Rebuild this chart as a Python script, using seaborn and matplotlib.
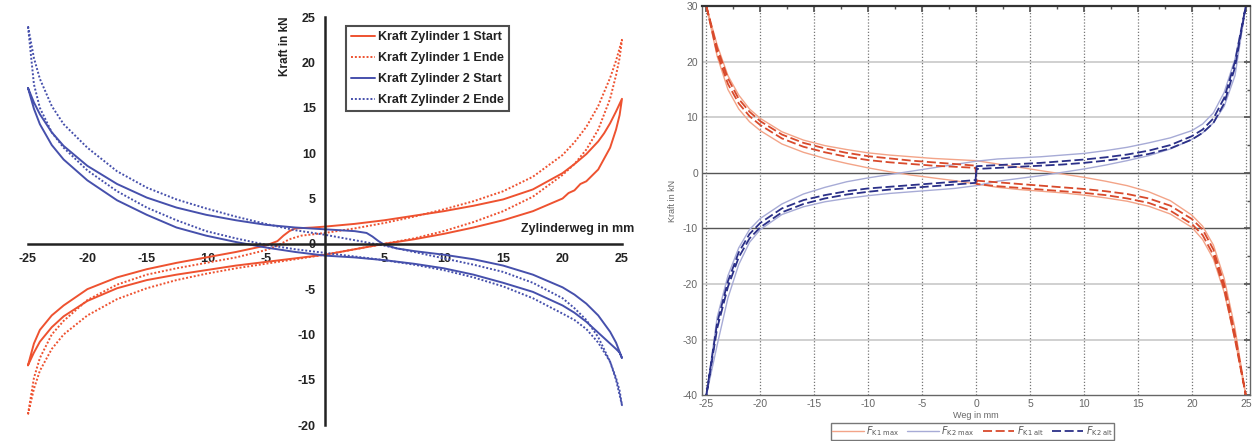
import matplotlib
matplotlib.use("Agg")
import matplotlib.pyplot as plt
import seaborn as sns

# ---------------- left panel: Kraft vs Zylinderweg (loops) ----------------
# Zylinder 1 Start (solid red): out branch then return branch
z1s_x = [-25, -24.5, -24, -23, -22, -20, -17.5, -15, -12.5, -10, -7.5, -5, -4, -3.5, -3, -2.5, -1, 0,
         2.5, 5, 7.5, 10, 12.5, 15, 17.5, 20, 21, 22, 23, 23.5, 24, 24.5, 25,
         24.8, 24.5, 24, 23, 22, 21.5, 21, 20.5, 20, 17.5, 15, 12.5, 10, 7.5, 5, 2.5, 0,
         -2.5, -5, -7.5, -10, -12.5, -15, -17.5, -20, -22, -23, -24, -24.5, -25]
z1s_y = [-13.4, -11.0, -9.5, -7.9, -6.8, -5.0, -3.7, -2.8, -2.1, -1.5, -0.9, -0.2, 0.3, 0.9, 1.4, 1.7, 1.8, 1.9,
         2.2, 2.6, 3.1, 3.6, 4.2, 4.9, 6.0, 7.8, 8.8, 9.9, 11.3, 12.2, 13.3, 14.6, 16.0,
         14.2, 12.6, 10.6, 8.2, 6.9, 6.6, 5.9, 5.6, 5.0, 3.6, 2.6, 1.8, 1.1, 0.5, 0.0, -0.6, -1.2,
         -1.6, -2.0, -2.4, -2.9, -3.4, -4.0, -4.9, -6.3, -8.0, -9.2, -10.8, -12.0, -13.4]

# Zylinder 1 Ende (dotted red)
z1e_x = [-25, -24.5, -24, -23, -22, -20, -17.5, -15, -12.5, -10, -7.5, -5, -4, -3, -2, 0,
         2.5, 5, 7.5, 10, 12.5, 15, 17.5, 20, 21, 22, 23, 24, 24.5, 25,
         24.8, 24.5, 24, 23, 22, 21, 20, 17.5, 15, 12.5, 10, 7.5, 5, 2.5, 0,
         -2.5, -5, -7.5, -10, -12.5, -15, -17.5, -20, -22, -23, -24, -24.5, -25]
z1e_y = [-18.8, -14.8, -12.6, -10.0, -8.5, -6.2, -4.5, -3.4, -2.7, -2.1, -1.5, -0.7, -0.2, 0.5, 0.9, 1.2,
         1.7, 2.3, 3.0, 3.8, 4.7, 5.8, 7.4, 9.8, 11.2, 12.9, 15.2, 18.3, 20.2, 22.5,
         20.5, 18.6, 16.0, 12.6, 10.4, 8.8, 7.6, 5.2, 3.6, 2.4, 1.4, 0.6, 0.0, -0.6, -1.2,
         -1.7, -2.2, -2.7, -3.3, -4.0, -4.9, -6.1, -7.9, -10.0, -11.6, -14.0, -16.0, -18.8]

# Zylinder 2 Start (solid blue)
z2s_x = [-25, -24.5, -24, -23, -22, -20, -17.5, -15, -12.5, -10, -7.5, -5, -2.5, 0,
         2.5, 3.5, 4, 4.5, 5, 6, 7.5, 10, 12.5, 15, 17.5, 20, 21, 22, 23, 24, 24.5, 25,
         24.8, 24.5, 24, 23, 22, 21, 20, 17.5, 15, 12.5, 10, 7.5, 5, 2.5, 0,
         -2.5, -5, -7.5, -10, -12.5, -15, -17.5, -20, -22, -23, -24, -24.5, -25]
z2s_y = [17.2, 15.6, 14.3, 12.3, 10.8, 8.6, 6.6, 5.1, 4.0, 3.2, 2.6, 2.1, 1.8, 1.6,
         1.4, 1.2, 0.8, 0.3, -0.1, -0.5, -0.8, -1.2, -1.7, -2.4, -3.4, -4.8, -5.6, -6.6, -7.9, -9.7, -10.9, -12.6,
         -12.0, -11.6, -11.0, -9.8, -8.6, -7.6, -6.8, -5.3, -4.3, -3.4, -2.7, -2.2, -1.8, -1.5, -1.3,
         -0.9, -0.4, 0.2, 0.9, 1.8, 3.2, 4.8, 7.0, 9.3, 10.9, 13.2, 14.9, 17.2]

# Zylinder 2 Ende (dotted blue)
z2e_x = [-25, -24.5, -24, -23, -22, -20, -17.5, -15, -12.5, -10, -7.5, -5, -2.5, 0,
         2.5, 5, 7.5, 10, 12.5, 15, 17.5, 20, 21, 22, 23, 24, 24.5, 25,
         24.8, 24.5, 24, 23, 22, 21, 20, 17.5, 15, 12.5, 10, 7.5, 5, 2.5, 0,
         -2.5, -5, -7.5, -10, -12.5, -15, -17.5, -20, -22, -23, -24, -24.5, -25]
z2e_y = [24.0, 20.5, 18.2, 15.2, 13.2, 10.6, 8.0, 6.2, 4.9, 3.9, 3.0, 2.2, 1.5, 1.0,
         0.4, -0.2, -0.9, -1.6, -2.3, -3.1, -4.3, -6.0, -7.1, -8.4, -10.3, -13.0, -15.0, -17.8,
         -16.2, -14.8, -13.0, -10.9, -9.4, -8.4, -7.7, -6.0, -4.7, -3.7, -2.9, -2.3, -1.8, -1.4, -1.0,
         -0.6, -0.1, 0.6, 1.4, 2.6, 4.0, 5.8, 8.1, 10.6, 12.3, 15.0, 17.6, 24.0]

left_labels = ["Kraft Zylinder 1 Start", "Kraft Zylinder 1 Ende",
               "Kraft Zylinder 2 Start", "Kraft Zylinder 2 Ende"]
left_xticks = [-25, -20, -15, -10, -5, 5, 10, 15, 20, 25]
left_yticks = [-20, -15, -10, -5, 0, 5, 10, 15, 20, 25]

# ---------------- right panel: Kraft vs Weg ----------------
w = [-25, -24, -23, -22, -21, -20, -18, -16, -14, -12, -10, -8, -6, -4, -2, 0,
     2, 4, 6, 8, 10, 12, 14, 16, 18, 20, 21, 22, 23, 24, 25]
k1max_up = [30, 23, 17.5, 14, 11.5, 9.8, 7.4, 5.9, 4.9, 4.2, 3.6, 3.2, 2.9, 2.6, 2.4, 2.2,
            1.6, 1.0, 0.4, -0.2, -0.8, -1.5, -2.3, -3.4, -5.0, -7.6, -9.6, -13, -19, -28, -40]
k1max_lo = [30, 21, 15, 11.5, 9.2, 7.6, 5.2, 3.7, 2.6, 1.7, 0.9, 0.2, -0.4, -0.9, -1.4, -2.0,
            -2.6, -3.0, -3.3, -3.6, -4.0, -4.5, -5.1, -6.0, -7.4, -9.8, -12, -15.5, -21.5, -30, -40]
k2max_up = [-40, -26, -18.5, -13.5, -10.2, -8.2, -5.6, -3.8, -2.6, -1.6, -0.9, -0.3, 0.3, 0.9, 1.5, 2.1,
            2.5, 2.7, 2.9, 3.2, 3.5, 4.0, 4.6, 5.4, 6.3, 7.6, 8.8, 10.8, 14.5, 20.5, 30]
k2max_lo = [-40, -31, -22.5, -16.5, -12.5, -10.2, -7.5, -6.1, -5.2, -4.6, -4.1, -3.7, -3.4, -3.1, -2.8, -2.3,
            -1.5, -1.0, -0.5, 0.1, 0.7, 1.4, 2.2, 3.1, 4.3, 6.0, 7.2, 9.0, 12.0, 17.5, 30]

wj = [-25, -24, -23, -22, -21, -20, -18, -16, -14, -12, -10, -8, -6, -4, -2, -0.05, 0.05,
      2, 4, 6, 8, 10, 12, 14, 16, 18, 20, 21, 22, 23, 24, 25]
k1alt_a = [30, 22.5, 17, 13.3, 11, 9.3, 6.9, 5.4, 4.4, 3.6, 3.0, 2.6, 2.2, 1.9, 1.6, 1.3, -1.4,
           -1.7, -2.0, -2.3, -2.6, -2.9, -3.3, -3.8, -4.6, -5.9, -8.3, -10.2, -13.8, -20, -29, -40]
k1alt_b = [30, 21.5, 16, 12.5, 10.2, 8.6, 6.2, 4.7, 3.7, 2.9, 2.3, 1.9, 1.6, 1.3, 1.1, 0.9, -2.0,
           -2.4, -2.7, -3.0, -3.3, -3.6, -4.0, -4.6, -5.4, -6.8, -9.2, -11.2, -14.8, -21, -30, -40]
k2alt_a = [-40, -27, -19.5, -14.3, -11, -9.0, -6.4, -4.9, -4.0, -3.3, -2.8, -2.5, -2.2, -1.9, -1.6, -1.3, 1.2,
           1.4, 1.6, 1.8, 2.1, 2.4, 2.8, 3.3, 4.0, 5.0, 6.6, 7.8, 9.8, 13.5, 20, 30]
k2alt_b = [-40, -28, -20.5, -15.2, -11.8, -9.8, -7.1, -5.6, -4.6, -3.9, -3.4, -3.0, -2.7, -2.4, -2.1, -1.8, 0.7,
           0.9, 1.1, 1.3, 1.5, 1.8, 2.2, 2.7, 3.4, 4.4, 6.0, 7.2, 9.0, 12.5, 19, 30]

right_labels = [r"$F_{\rm K1\ max}$", r"$F_{\rm K2\ max}$", r"$F_{\rm K1\ alt}$", r"$F_{\rm K2\ alt}$"]

RED = "#ee5230"
BLUE = "#4650ac"

sns.set_theme(style="white")
plt.rcParams["font.family"] = ["Liberation Sans", "DejaVu Sans"]
plt.rcParams["axes.unicode_minus"] = False

fig = plt.figure(figsize=(12.55, 4.41), dpi=100)
ax1 = fig.add_axes([0.0223, 0.036, 0.4733, 0.925])
ax2 = fig.add_axes([0.5594, 0.104, 0.4367, 0.882])

# ---- left ----
dot = (0, (1, 1))
series = [(z1s_x, z1s_y, RED, "-"), (z1e_x, z1e_y, RED, dot),
          (z2s_x, z2s_y, BLUE, "-"), (z2e_x, z2e_y, BLUE, dot)]
for (xs, ys, c, ls), lab in zip(series, left_labels):
    sns.lineplot(x=xs, y=ys, sort=False, estimator=None, ax=ax1, color=c,
                 linestyle=ls, lw=1.4, label=lab, clip_on=False)

ax1.set_xlim(-25, 25)
ax1.set_ylim(-20, 25)
for s in ["top", "right"]:
    ax1.spines[s].set_visible(False)
for s in ["left", "bottom"]:
    ax1.spines[s].set_position(("data", 0))
    ax1.spines[s].set_color("#222222")
    ax1.spines[s].set_linewidth(1.8)
ax1.set_xticks(left_xticks)
ax1.set_yticks(left_yticks)
ax1.set_xticks([x + 2.5 for x in range(-25, 25, 5)], minor=True)
ax1.set_yticks([y + 2.5 for y in range(-20, 25, 5)], minor=True)
ax1.tick_params(which="major", direction="inout", length=9, width=1.6, color="#222222",
                labelsize=9, labelcolor="#222222", pad=2)
ax1.tick_params(which="minor", direction="inout", length=5, width=1.3, color="#222222")
for t in ax1.get_xticklabels() + ax1.get_yticklabels():
    t.set_fontweight("bold")
ax1.set_xlabel("")
ax1.set_ylabel("")
ax1.text(26.0, 1.6, "Zylinderweg in mm", ha="right", va="center", fontsize=9,
         fontweight="bold", color="#222222", clip_on=False)
ax1.text(-3.4, 21.8, "Kraft in kN", rotation=90, ha="center", va="center", fontsize=8.5,
         fontweight="bold", color="#222222")
leg1 = ax1.legend(loc="upper left", bbox_to_anchor=(0.535, 0.978), fontsize=9,
                  frameon=True, fancybox=False, handlelength=1.9, borderpad=0.4,
                  labelspacing=0.72, handletextpad=0.3, borderaxespad=0)
leg1.get_frame().set_edgecolor("#222222")
leg1.get_frame().set_linewidth(1.5)
for t in leg1.get_texts():
    t.set_fontweight("bold")
    t.set_color("#222222")

# ---- right ----
ax2.grid(False)
for yv in [30, 20, 10, -20, -30]:
    ax2.axhline(yv, color="#d0d0d0", lw=1.4, zorder=0)
for yv in [0, -10]:
    ax2.axhline(yv, color="#555555", lw=1.0, zorder=0)
for xv in range(-25, 26, 5):
    ax2.axvline(xv, color="#777777", lw=0.9, linestyle=(0, (1, 1.5)), zorder=0)

rseries = [(w + w[::-1], k1max_up + k1max_lo[::-1], "#f3a488", "-", 1.0),
           (w + w[::-1], k2max_up + k2max_lo[::-1], "#a7abd6", "-", 1.0),
           (wj + wj[::-1], k1alt_a + k1alt_b[::-1], "#d84a2c", (0, (5, 2)), 1.3),
           (wj + wj[::-1], k2alt_a + k2alt_b[::-1], "#2b3088", (0, (5, 2)), 1.3)]
for (xs, ys, c, ls, lw), lab in zip(rseries, right_labels):
    sns.lineplot(x=xs, y=ys, sort=False, estimator=None, ax=ax2, color=c,
                 linestyle=ls, lw=lw, label=lab)
ax2.get_legend().remove()

ax2.set_xlim(-25.4, 25.4)
ax2.set_ylim(-40, 30)
ax2.set_xticks(range(-25, 26, 5))
ax2.set_yticks(range(-40, 31, 10))
ax2.set_xticks([x + 2.5 for x in range(-25, 25, 5)], minor=True)
ax2.set_yticks([y + 5 for y in range(-40, 30, 10)], minor=True)
ax2.tick_params(which="both", direction="in", color="#555555", top=True, right=True)
ax2.tick_params(which="major", length=4, labelsize=7.5, labelcolor="#666666", pad=3)
ax2.tick_params(which="minor", length=2)
for s in ax2.spines.values():
    s.set_color("#666666")
    s.set_linewidth(1.0)
ax2.spines["top"].set_color("#333333")
ax2.spines["top"].set_linewidth(1.6)
ax2.set_xlabel("Weg in mm", fontsize=6.5, color="#666666", labelpad=1)
ax2.set_ylabel("Kraft in kN", fontsize=6.5, color="#666666", labelpad=4)

h2, l2 = ax2.get_legend_handles_labels()
leg2 = fig.legend(h2, l2, loc="center", bbox_to_anchor=(0.775, 0.022), ncol=4,
                  fontsize=7, frameon=True, fancybox=False, handlelength=3.2,
                  borderpad=0.15, columnspacing=0.8, handletextpad=0.3)
leg2.get_frame().set_edgecolor("#555555")
leg2.get_frame().set_linewidth(1.0)
for t in leg2.get_texts():
    t.set_color("#555555")

fig.savefig("out.png", dpi=100, facecolor="white")
